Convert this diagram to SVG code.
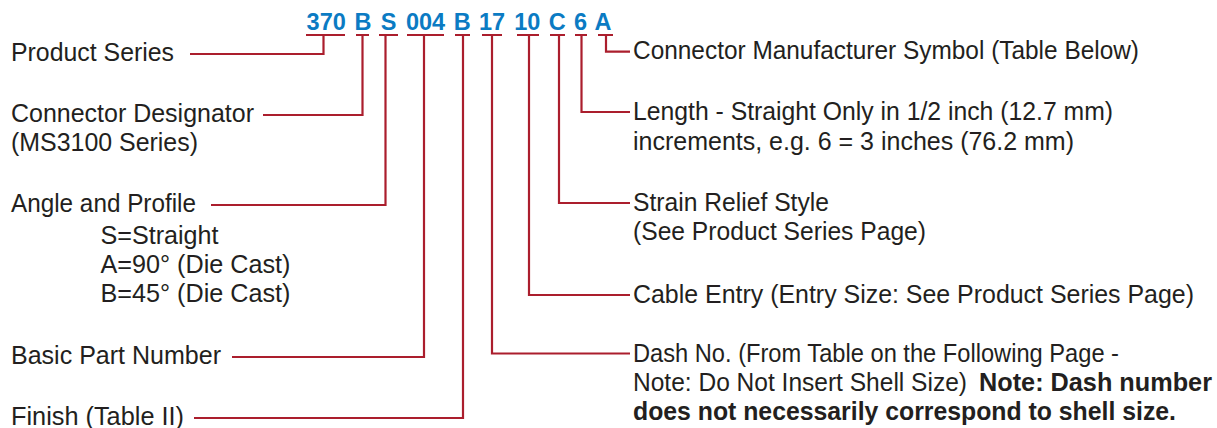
<svg xmlns="http://www.w3.org/2000/svg" width="1217" height="428" viewBox="0 0 1217 428">
<style>
.code{font-family:"Liberation Sans",Arial,sans-serif;font-weight:bold;font-size:23.5px;fill:#0b7bc3;text-anchor:middle}
.lbl{font-family:"Liberation Sans",Arial,sans-serif;font-size:25.5px;fill:#231f20}
.b{font-weight:bold}
.ln{fill:none;stroke:#ab1e2d;stroke-width:2.2}
</style>
<rect width="1217" height="428" fill="#ffffff"/>
<g id="code">
<text class="code" x="326.2" y="29.5">370</text>
<text class="code" x="363" y="29.5">B</text>
<text class="code" x="388.5" y="29.5">S</text>
<text class="code" x="425.5" y="29.5">004</text>
<text class="code" x="462.3" y="29.5">B</text>
<text class="code" x="492" y="29.5">17</text>
<text class="code" x="527.3" y="29.5">10</text>
<text class="code" x="557.2" y="29.5">C</text>
<text class="code" x="580.5" y="29.5">6</text>
<text class="code" x="603" y="29.5">A</text>
</g>
<g id="connectors">
<path class="ln" d="M306 35H345M356 35H369M379 35H398M407 35H444M455 35H470M482 35H502M517 35H539M550 35H565M575 35H587M598 35H613"/>
<path class="ln" d="M190 54H323.5V35"/>
<path class="ln" d="M263 115H362.5V35"/>
<path class="ln" d="M211 205H385.5V35"/>
<path class="ln" d="M232 357H424V35"/>
<path class="ln" d="M194 418H463V35"/>
<path class="ln" d="M630 353.5H492V35"/>
<path class="ln" d="M630 295H529V35"/>
<path class="ln" d="M630 203H559V35"/>
<path class="ln" d="M630 112H581.5V35"/>
<path class="ln" d="M630 51.7H606V35"/>
</g>
<g id="product-series"><text class="lbl" x="11" y="61" textLength="163" lengthAdjust="spacingAndGlyphs">Product Series</text></g>
<g id="connector-designator">
<text class="lbl" x="11" y="122" textLength="243" lengthAdjust="spacingAndGlyphs">Connector Designator</text>
<text class="lbl" x="11" y="150.5" textLength="187" lengthAdjust="spacingAndGlyphs">(MS3100 Series)</text>
</g>
<g id="angle-profile">
<text class="lbl" x="11" y="212" textLength="185" lengthAdjust="spacingAndGlyphs">Angle and Profile</text>
<text class="lbl" x="100.5" y="243.5" textLength="118" lengthAdjust="spacingAndGlyphs">S=Straight</text>
<text class="lbl" x="100.5" y="273" textLength="190" lengthAdjust="spacingAndGlyphs">A=90° (Die Cast)</text>
<text class="lbl" x="100.5" y="302" textLength="190" lengthAdjust="spacingAndGlyphs">B=45° (Die Cast)</text>
</g>
<g id="basic-part-number"><text class="lbl" x="11" y="363.5" textLength="210" lengthAdjust="spacingAndGlyphs">Basic Part Number</text></g>
<g id="finish"><text class="lbl" x="11" y="425" textLength="173" lengthAdjust="spacingAndGlyphs">Finish (Table II)</text></g>
<g id="manufacturer-symbol"><text class="lbl" x="633" y="58.5" textLength="506" lengthAdjust="spacingAndGlyphs">Connector Manufacturer Symbol (Table Below)</text></g>
<g id="length">
<text class="lbl" x="633" y="120" textLength="480" lengthAdjust="spacingAndGlyphs">Length - Straight Only in 1/2 inch (12.7 mm)</text>
<text class="lbl" x="633" y="150" textLength="441" lengthAdjust="spacingAndGlyphs">increments, e.g. 6 = 3 inches (76.2 mm)</text>
</g>
<g id="strain-relief">
<text class="lbl" x="633" y="211" textLength="196" lengthAdjust="spacingAndGlyphs">Strain Relief Style</text>
<text class="lbl" x="633" y="240" textLength="293" lengthAdjust="spacingAndGlyphs">(See Product Series Page)</text>
</g>
<g id="cable-entry"><text class="lbl" x="633" y="302.5" textLength="561" lengthAdjust="spacingAndGlyphs">Cable Entry (Entry Size: See Product Series Page)</text></g>
<g id="dash-no">
<text class="lbl" x="633" y="362" textLength="486" lengthAdjust="spacingAndGlyphs">Dash No. (From Table on the Following Page -</text>
<text class="lbl" x="633" y="391" textLength="334" lengthAdjust="spacingAndGlyphs">Note: Do Not Insert Shell Size)</text>
<text class="lbl b" x="979" y="391" textLength="233" lengthAdjust="spacingAndGlyphs">Note: Dash number</text>
<text class="lbl b" x="633" y="420" textLength="543" lengthAdjust="spacingAndGlyphs">does not necessarily correspond to shell size.</text>
</g>
</svg>
